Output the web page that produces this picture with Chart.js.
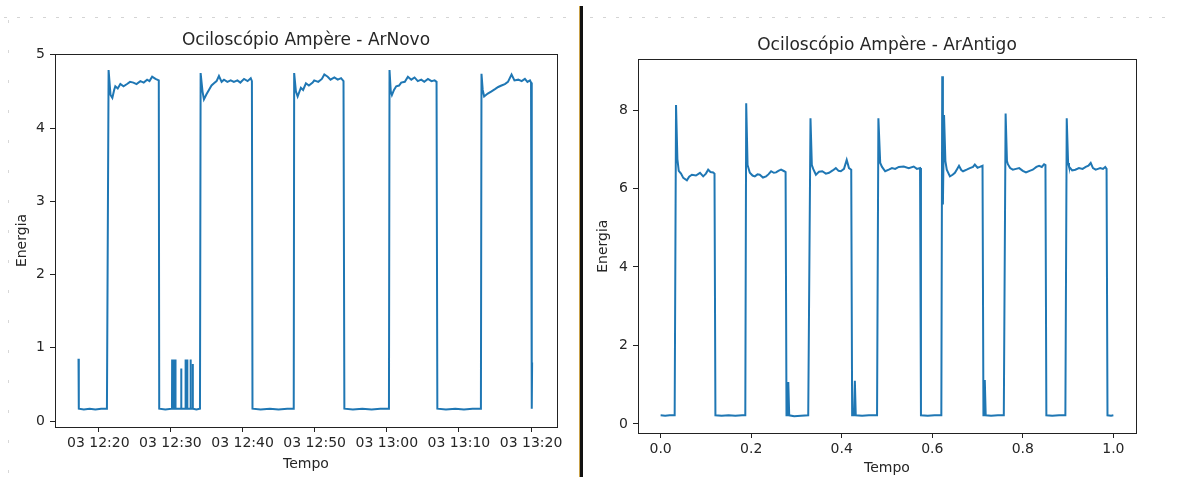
<!DOCTYPE html>
<html>
<head>
<meta charset="utf-8">
<script src="https://cdn.jsdelivr.net/npm/chart.js@4.4.1/dist/chart.umd.min.js"></script>
<style>
  html, body { margin: 0; padding: 0; background: #fff; }
  #page { position: relative; width: 1177px; height: 477px; overflow: hidden; background: #fff; }
  .painel { position: absolute; top: 0; height: 477px; overflow: hidden; }
  #painelNovo { left: 0; width: 575px; }
  #painelAntigo { left: 583px; width: 594px; }
  #divisor { position: absolute; left: 579px; top: 6px; width: 3px; height: 471px; background: #111; border-left: 1px solid #c9a24a; }
  .pontilhado-h { position: absolute; top: 17px; height: 1px;
    background: repeating-linear-gradient(90deg, #d4d4d4 0 3px, transparent 3px 13px); }
  .pontilhado-v { position: absolute; left: 8px; top: 20px; width: 1px; height: 457px;
    background: repeating-linear-gradient(180deg, #d8d8d8 0 3px, transparent 3px 30px); }
</style>
</head>
<body>
<div id="page">
  <div class="pontilhado-h" style="left:4px;width:570px"></div>
  <div class="pontilhado-h" style="left:590px;width:580px"></div>
  <div class="pontilhado-v"></div>
  <div id="painelNovo" class="painel"><canvas id="graficoNovo" width="575" height="477"></canvas></div>
  <div id="divisor"></div>
  <div id="painelAntigo" class="painel"><canvas id="graficoAntigo" width="594" height="477"></canvas></div>
</div>
<script>
// ArNovo: tempo em minutos depois de 12:00 (dia 03)
const tempoNovo = [
  17.26, 17.30, 18.0, 18.8, 19.6, 20.4, 21.2,
  21.43, 21.7, 21.95, 22.2, 22.36, 22.7, 23.06, 23.5, 23.99, 24.4, 24.87, 25.3, 25.84, 26.3, 26.77, 27.1, 27.47, 27.93, 28.39,
  28.45, 29.3,
  30.22, 30.24, 30.26, 30.44, 30.46, 30.48, 30.68, 30.70, 30.72,
  31.48, 31.50, 31.52, 32.08, 32.10, 32.12, 32.32, 32.34, 32.36,
  32.78, 32.80, 32.82, 33.08, 33.10, 33.12, 33.6, 34.1,
  34.19, 34.45, 34.65, 35.0, 35.34, 35.7, 36.04, 36.4, 36.73, 37.1, 37.43, 37.9, 38.36, 38.8, 39.29, 39.7, 40.21, 40.7, 41.14, 41.3,
  41.38, 42.5, 43.8, 45.0, 46.2, 47.1,
  47.16, 47.4, 47.64, 48.09, 48.4, 48.79, 49.2, 49.72, 49.94, 50.5, 51.0, 51.34, 51.81, 52.2, 52.73, 53.2, 53.66, 54.0,
  54.12, 55.3, 56.6, 57.9, 59.1, 60.3,
  60.38, 60.55, 60.71, 61.0, 61.31, 61.7, 62.0, 62.5, 62.93, 63.4, 63.85, 64.3, 64.78, 65.2, 65.71, 66.2, 66.63, 66.9,
  67.01, 68.2, 69.5, 70.7, 71.9, 73.05,
  73.13, 73.3, 73.5, 74.0, 74.52, 75.0, 75.45, 75.9, 76.37, 76.8, 77.3, 77.7, 78.23, 78.7, 79.15, 79.5, 79.85, 80.0,
  80.08, 80.12, 80.15
];
const energiaNovo = [
  0.85, 0.17, 0.16, 0.17, 0.16, 0.17, 0.17,
  4.79, 4.45, 4.41, 4.52, 4.57, 4.54, 4.60, 4.57, 4.60, 4.63, 4.62, 4.60, 4.64, 4.62, 4.66, 4.64, 4.70, 4.67, 4.65,
  0.17, 0.16,
  0.17, 0.84, 0.17, 0.17, 0.84, 0.17, 0.17, 0.84, 0.17,
  0.17, 0.72, 0.17, 0.17, 0.84, 0.17, 0.17, 0.84, 0.17,
  0.17, 0.84, 0.17, 0.17, 0.78, 0.17, 0.16, 0.17,
  4.75, 4.50, 4.39, 4.46, 4.52, 4.58, 4.61, 4.64, 4.71, 4.63, 4.66, 4.63, 4.65, 4.63, 4.65, 4.62, 4.67, 4.64, 4.68, 4.64,
  0.17, 0.16, 0.17, 0.16, 0.17, 0.17,
  4.75, 4.50, 4.43, 4.55, 4.52, 4.61, 4.58, 4.62, 4.65, 4.63, 4.67, 4.73, 4.70, 4.66, 4.69, 4.66, 4.68, 4.64,
  0.17, 0.16, 0.17, 0.16, 0.17, 0.17,
  4.79, 4.50, 4.45, 4.52, 4.57, 4.58, 4.62, 4.63, 4.70, 4.66, 4.69, 4.64, 4.66, 4.63, 4.67, 4.64, 4.65, 4.63,
  0.17, 0.16, 0.17, 0.16, 0.17, 0.17,
  4.74, 4.52, 4.43, 4.47, 4.50, 4.53, 4.56, 4.58, 4.60, 4.63, 4.73, 4.65, 4.66, 4.64, 4.67, 4.63, 4.65, 4.62,
  0.17, 0.17, 0.80
];
const ticksTempoNovo = [20, 30, 40, 50, 60, 70, 80];
const rotulosTempoNovo = ['03 12:20', '03 12:30', '03 12:40', '03 12:50', '03 13:00', '03 13:10', '03 13:20'];
const ticksEnergiaNovo = [0, 1, 2, 3, 4, 5];

// ArAntigo: tempo normalizado 0..1
const tempoAntigo = [
  0.000, 0.010, 0.020, 0.031,
  0.034, 0.037, 0.040, 0.045, 0.050, 0.058, 0.063, 0.069, 0.078, 0.087, 0.094, 0.100, 0.105, 0.110, 0.116, 0.119,
  0.121, 0.135, 0.150, 0.165, 0.180, 0.187,
  0.189, 0.192, 0.197, 0.203, 0.208, 0.214, 0.219, 0.226, 0.233, 0.238, 0.244, 0.250, 0.255, 0.260, 0.266, 0.273, 0.276,
  0.278, 0.281, 0.282, 0.284, 0.295, 0.310, 0.326,
  0.331, 0.334, 0.337, 0.343, 0.350, 0.357, 0.365, 0.372, 0.380, 0.387, 0.393, 0.398, 0.405, 0.411, 0.416, 0.421,
  0.423, 0.427, 0.429, 0.431, 0.445, 0.460, 0.478,
  0.481, 0.485, 0.489, 0.496, 0.504, 0.511, 0.518, 0.526, 0.537, 0.548, 0.559, 0.566, 0.573,
  0.575, 0.590, 0.605, 0.620,
  0.622, 0.6235, 0.626, 0.629, 0.632, 0.639, 0.645, 0.650, 0.655, 0.659, 0.664, 0.668, 0.676, 0.683, 0.690, 0.694, 0.700, 0.705, 0.711,
  0.713, 0.715, 0.716, 0.718, 0.730, 0.745, 0.758,
  0.762, 0.765, 0.767, 0.772, 0.778, 0.785, 0.792, 0.800, 0.807, 0.815, 0.822, 0.830, 0.836, 0.842, 0.847, 0.850,
  0.852, 0.865, 0.880, 0.894,
  0.897, 0.900, 0.902, 0.909, 0.916, 0.924, 0.932, 0.939, 0.945, 0.950, 0.955, 0.961, 0.966, 0.971, 0.977, 0.982, 0.985,
  0.987, 0.995, 1.000
];
const energiaAntigo = [
  0.22, 0.21, 0.22, 0.22,
  8.13, 6.75, 6.45, 6.38, 6.27, 6.21, 6.30, 6.35, 6.33, 6.40, 6.31, 6.38, 6.48, 6.42, 6.41, 6.38,
  0.22, 0.21, 0.22, 0.21, 0.22, 0.22,
  8.17, 6.60, 6.40, 6.33, 6.31, 6.36, 6.35, 6.28, 6.31, 6.36, 6.44, 6.40, 6.41, 6.45, 6.48, 6.44, 6.42,
  0.22, 0.22, 1.07, 0.22, 0.20, 0.21, 0.22,
  7.79, 6.60, 6.50, 6.35, 6.43, 6.44, 6.38, 6.40, 6.46, 6.52, 6.45, 6.44, 6.50, 6.73, 6.52, 6.48,
  0.22, 0.22, 1.10, 0.22, 0.21, 0.22, 0.22,
  7.79, 6.65, 6.55, 6.44, 6.48, 6.52, 6.50, 6.55, 6.56, 6.52, 6.56, 6.50, 6.52,
  0.22, 0.21, 0.22, 0.22,
  8.86, 5.59, 7.87, 6.70, 6.48, 6.31, 6.35, 6.40, 6.50, 6.58, 6.47, 6.44, 6.48, 6.52, 6.55, 6.61, 6.53, 6.55, 6.58,
  0.22, 0.22, 1.12, 0.22, 0.21, 0.22, 0.22,
  7.91, 6.70, 6.62, 6.52, 6.48, 6.50, 6.52, 6.45, 6.41, 6.45, 6.48, 6.55, 6.58, 6.55, 6.62, 6.60,
  0.22, 0.21, 0.22, 0.22,
  7.79, 6.65, 6.56, 6.46, 6.48, 6.52, 6.50, 6.55, 6.58, 6.65, 6.52, 6.48, 6.50, 6.52, 6.50, 6.55, 6.50,
  0.22, 0.21, 0.22
];
const ticksTempoAntigo = [0, 0.2, 0.4, 0.6, 0.8, 1.0];
const ticksEnergiaAntigo = [0, 2, 4, 6, 8];

const corLinha = '#1f77b4';
const corTexto = '#262626';
const fonte = 'DejaVu Sans';

// moldura completa em volta da área do gráfico (estilo matplotlib)
const molduraPlugin = {
  id: 'moldura',
  afterDraw(chart) {
    const { ctx, chartArea: a } = chart;
    ctx.save();
    ctx.strokeStyle = '#222';
    ctx.lineWidth = 1;
    ctx.strokeRect(Math.round(a.left) + 0.5, Math.round(a.top) + 0.5, Math.round(a.right - a.left), Math.round(a.bottom - a.top));
    ctx.restore();
  }
};

function montarGrafico(id, cfg) {
  const pontos = cfg.tempo.map((t, i) => ({ x: t, y: cfg.energia[i] }));
  const ctx = document.getElementById(id).getContext('2d');
  return new Chart(ctx, {
    type: 'line',
    data: {
      datasets: [{
        data: pontos,
        borderColor: corLinha,
        borderWidth: 2,
        pointRadius: 0,
        tension: 0,
        fill: false
      }]
    },
    options: {
      responsive: false,
      animation: false,
      devicePixelRatio: 1,
      layout: { padding: { left: 0, right: cfg.padDireita, top: 0, bottom: 0 } },
      plugins: {
        legend: { display: false },
        tooltip: { enabled: false },
        title: {
          display: true,
          text: cfg.titulo,
          fullSize: false,
          color: corTexto,
          font: { family: fonte, size: 17, weight: 'normal' },
          padding: { top: cfg.tituloTopo, bottom: 3.6 }
        }
      },
      scales: {
        x: {
          type: 'linear',
          min: cfg.xMin,
          max: cfg.xMax,
          afterFit: (s) => { s.height = cfg.alturaX; },
          afterBuildTicks: (s) => { s.ticks = cfg.ticksX.map(v => ({ value: v })); },
          grid: { display: true, drawOnChartArea: false, drawTicks: true, tickLength: 5, tickColor: '#222' },
          border: { display: true, color: '#222', width: 1 },
          ticks: {
            color: corTexto,
            padding: 3,
            maxRotation: 0,
            autoSkip: false,
            font: { family: fonte, size: 14 },
            callback: cfg.rotuloX
          },
          title: {
            display: true,
            text: 'Tempo',
            color: corTexto,
            font: { family: fonte, size: 14 },
            padding: { top: 0, bottom: cfg.tempoBaixo }
          }
        },
        y: {
          min: cfg.yMin,
          max: cfg.yMax,
          afterFit: (s) => { s.width = cfg.larguraY; },
          afterBuildTicks: (s) => { s.ticks = cfg.ticksY.map(v => ({ value: v })); },
          grid: { display: true, drawOnChartArea: false, drawTicks: true, tickLength: 5, tickColor: '#222' },
          border: { display: true, color: '#222', width: 1 },
          ticks: {
            color: corTexto,
            padding: 5,
            font: { family: fonte, size: 14 },
            callback: (v) => String(v)
          },
          title: {
            display: true,
            text: 'Energia',
            color: corTexto,
            font: { family: fonte, size: 14 },
            padding: { top: cfg.energiaEsq, bottom: 0 }
          }
        }
      }
    },
    plugins: [molduraPlugin]
  });
}

montarGrafico('graficoNovo', {
  titulo: 'Ociloscópio Ampère - ArNovo',
  tempo: tempoNovo,
  energia: energiaNovo,
  xMin: 14.0, xMax: 83.6,
  yMin: -0.08, yMax: 5.01,
  ticksX: ticksTempoNovo,
  ticksY: ticksEnergiaNovo,
  rotuloX: (v) => {
    const i = ticksTempoNovo.indexOf(v);
    return i >= 0 ? rotulosTempoNovo[i] : '';
  },
  padDireita: 18,
  tituloTopo: 30,
  alturaX: 50,
  larguraY: 55,
  tempoBaixo: 4.6,
  energiaEsq: 13.6
});

montarGrafico('graficoAntigo', {
  titulo: 'Ociloscópio Ampère - ArAntigo',
  tempo: tempoAntigo,
  energia: energiaAntigo,
  xMin: -0.05, xMax: 1.05,
  yMin: -0.23, yMax: 9.29,
  ticksX: ticksTempoAntigo,
  ticksY: ticksEnergiaAntigo,
  rotuloX: (v) => v.toFixed(1),
  padDireita: 41,
  tituloTopo: 35.4,
  alturaX: 44,
  larguraY: 55,
  tempoBaixo: 0,
  energiaEsq: 11.6
});
</script>
</body>
</html>
